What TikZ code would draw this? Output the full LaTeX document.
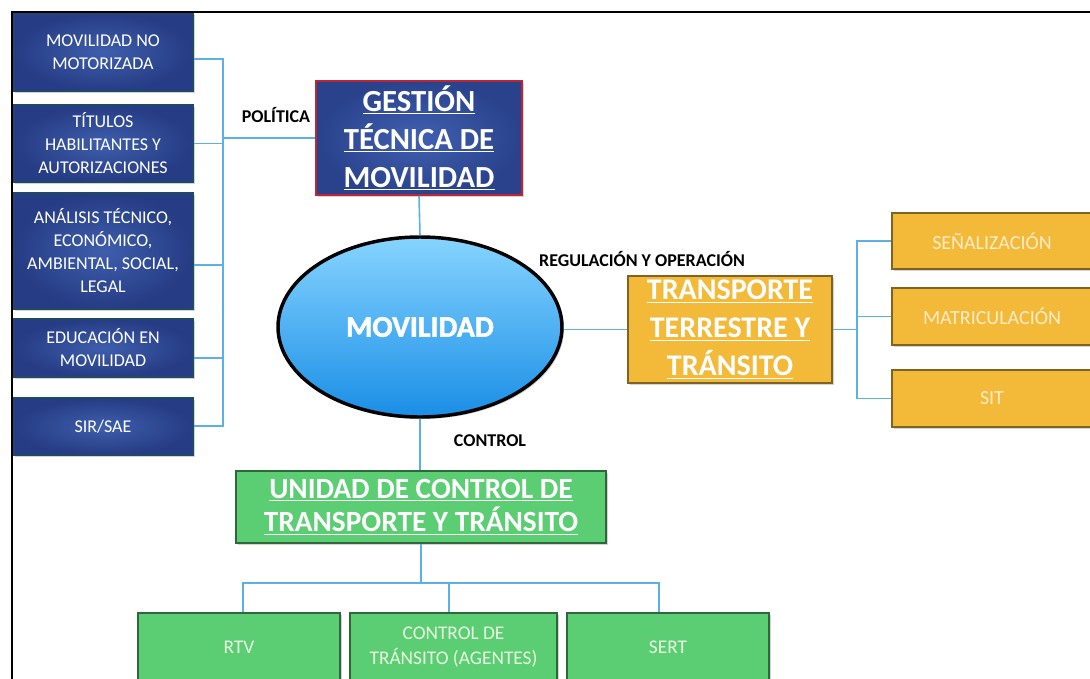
\documentclass[tikz,border=0pt]{standalone}
\usepackage{fontspec}
\setmainfont{Carlito}
\newfontface\heavyfont{Carlito Bold}[FakeBold=1.6]
\usetikzlibrary{shapes.geometric,shadows}

\tikzset{every picture/.style={line width=0.75pt}}
\tikzset{
  conn/.style={color={rgb, 255:red, 91; green, 177; blue, 230 }, line width=1.2pt},
  frame/.style={color={rgb, 255:red, 0; green, 0; blue, 0 }, line width=1.5pt},
  bshadow/.style={drop shadow={opacity=0.35, shadow xshift=1.5pt, shadow yshift=-1.5pt}},
  bluebox/.style={draw={rgb, 255:red, 30; green, 74; blue, 104 }, line width=1.1pt,
    inner color={rgb, 255:red, 62; green, 94; blue, 172 }, outer color={rgb, 255:red, 38; green, 60; blue, 132 },
    text=white, align=center, inner sep=0pt, minimum width=135pt,
    font=\fontsize{13.5}{17.25}\selectfont, bshadow},
  gestbox/.style={draw={rgb, 255:red, 190; green, 36; blue, 56 }, line width=1.3pt,
    inner color={rgb, 255:red, 64; green, 96; blue, 176 }, outer color={rgb, 255:red, 42; green, 66; blue, 140 },
    text=white, align=center, inner sep=0pt, minimum width=154.5pt, minimum height=85.5pt,
    font=\fontsize{23}{28.5}\selectfont\bfseries, bshadow},
  movell/.style={ellipse, draw=black, line width=2.6pt, inner sep=0pt,
    top color={rgb, 255:red, 134; green, 212; blue, 255 }, bottom color={rgb, 255:red, 26; green, 142; blue, 230 },
    minimum width=213pt, minimum height=135pt, text=white,
    font=\fontsize{22.5}{28}\selectfont\heavyfont, bshadow},
  orbox/.style={draw={rgb, 255:red, 128; green, 98; blue, 34 }, line width=1.1pt,
    fill={rgb, 255:red, 243; green, 186; blue, 58 }, align=center, inner sep=0pt, bshadow},
  grbox/.style={draw={rgb, 255:red, 46; green, 104; blue, 58 }, line width=1.1pt,
    fill={rgb, 255:red, 91; green, 206; blue, 116 }, align=center, inner sep=0pt, bshadow},
  bigtxt/.style={text=white, font=\fontsize{22.5}{28.5}\selectfont\bfseries},
  ortxt/.style={text={rgb, 255:red, 252; green, 236; blue, 200 }, font=\fontsize{15}{19}\selectfont},
  grtxt/.style={text={rgb, 255:red, 234; green, 248; blue, 226 }, font=\fontsize{14.5}{18.75}\selectfont},
  lbl/.style={text=black, font=\fontsize{13.5}{16}\selectfont\bfseries, inner sep=0.75pt}
}

\begin{document}
\begin{tikzpicture}[x=0.75pt,y=0.75pt,yscale=-1,xscale=1]
\useasboundingbox (0,0) rectangle (1090,679);
\clip (0,0) rectangle (1090,679);

%Shape: Rectangle (left column)
\draw (103,52) node (mnm) [bluebox, minimum height=58.5pt] {MOVILIDAD NO\\MOTORIZADA};
\draw (103,143.5) node (tha) [bluebox, minimum height=57.75pt] {TÍTULOS\\HABILITANTES Y\\AUTORIZACIONES};
\draw (103,251) node (ate) [bluebox, minimum height=87pt] {ANÁLISIS TÉCNICO,\\ECONÓMICO,\\AMBIENTAL, SOCIAL,\\LEGAL};
\draw (103,348) node (edu) [bluebox, minimum height=43.5pt] {EDUCACIÓN EN\\MOVILIDAD};
\draw (103,426.5) node (sir) [bluebox, minimum height=42.75pt] {SIR/SAE};

%Shape: Rectangle
\draw (419,138) node (gtm) [gestbox] {\underline{GESTIÓN}\\\underline{TÉCNICA DE}\\\underline{MOVILIDAD}};

%Shape: Ellipse
\draw (420,327) node (mov) [movell] {MOVILIDAD};

%Shape: Rectangle
\draw (730,329.5) node (ttt) [orbox, bigtxt, minimum width=153pt, minimum height=80.25pt] {\underline{TRANSPORTE}\\\underline{TERRESTRE Y}\\\underline{TRÁNSITO}};

%Shape: Rectangle (right column)
\draw (992,241) node (sen) [orbox, ortxt, minimum width=150pt, minimum height=42pt] {SEÑALIZACIÓN};
\draw (992,316.5) node (mat) [orbox, ortxt, minimum width=150pt, minimum height=42.75pt] {MATRICULACIÓN};
\draw (992,398.5) node (sit) [orbox, ortxt, minimum width=150pt, minimum height=42.75pt] {SIT};

%Shape: Rectangle
\draw (421,507) node (uct) [grbox, bigtxt, minimum width=277.5pt, minimum height=54pt, font=\fontsize{22}{25}\selectfont\bfseries] {\underline{UNIDAD DE CONTROL DE}\\\underline{TRANSPORTE Y TRÁNSITO}};

%Shape: Rectangle (bottom row)
\draw (239,647) node (rtv) [grbox, grtxt, minimum width=151.5pt, minimum height=51pt] {RTV};
\draw (453.5,647) node (cta) [grbox, grtxt, minimum width=155.25pt, minimum height=51pt] {CONTROL DE\\TRÁNSITO (AGENTES)};
\draw (668,647) node (ser) [grbox, grtxt, minimum width=151.5pt, minimum height=51pt] {SERT};

%Straight Lines
\coordinate (lbus) at (223,426) ;
\coordinate (rbus) at (857,398.5) ;
\coordinate (bbus) at (421,583) ;
\draw [conn] ([yshift=5.25pt]mnm.east) -| (lbus) -- (lbus -| sir.east) ;
\draw [conn] (tha.east) -- (tha.east -| lbus) ;
\draw [conn] ([yshift=10.5pt]ate.east) -- ([yshift=10.5pt]ate.east -| lbus) ;
\draw [conn] ([yshift=7.5pt]edu.east) -- ([yshift=7.5pt]edu.east -| lbus) ;
\draw [conn] (gtm.west) -- (gtm.west -| lbus) ;
\draw [conn] (gtm.south) -- (mov.north) ;
\draw [conn] (ttt.west) -- (ttt.west -| mov.east) ;
\draw [conn] (sen.west) -| (rbus) -- (sit.west) ;
\draw [conn] (mat.west) -- (mat.west -| rbus) ;
\draw [conn] (ttt.east) -- (ttt.east -| rbus) ;
\draw [conn] (mov.south) -- (mov.south |- uct.north) ;
\draw [conn] (uct.south -| bbus) -- (bbus) ;
\coordinate (d1) at ([xshift=3pt]rtv.north) ;
\coordinate (d2) at ([xshift=-3.4pt]cta.north) ;
\coordinate (d3) at ([xshift=-6.75pt]ser.north) ;
\draw [conn] (d1) -- (d1 |- bbus) -- (d3 |- bbus) -- (d3) ;
\draw [conn] (d2) -- (d2 |- bbus) ;

%Shape: Frame
\draw [frame] (1100,12) -- (12,12) -- (12,690) ;

% Text Node
\draw (276,115) node (pol) [lbl] {POLÍTICA};
% Text Node
\draw (642,259) node (reg) [lbl] {REGULACIÓN Y OPERACIÓN};
% Text Node
\draw (490,441) node (ctl) [lbl] {CONTROL};

\end{tikzpicture}
\end{document}
